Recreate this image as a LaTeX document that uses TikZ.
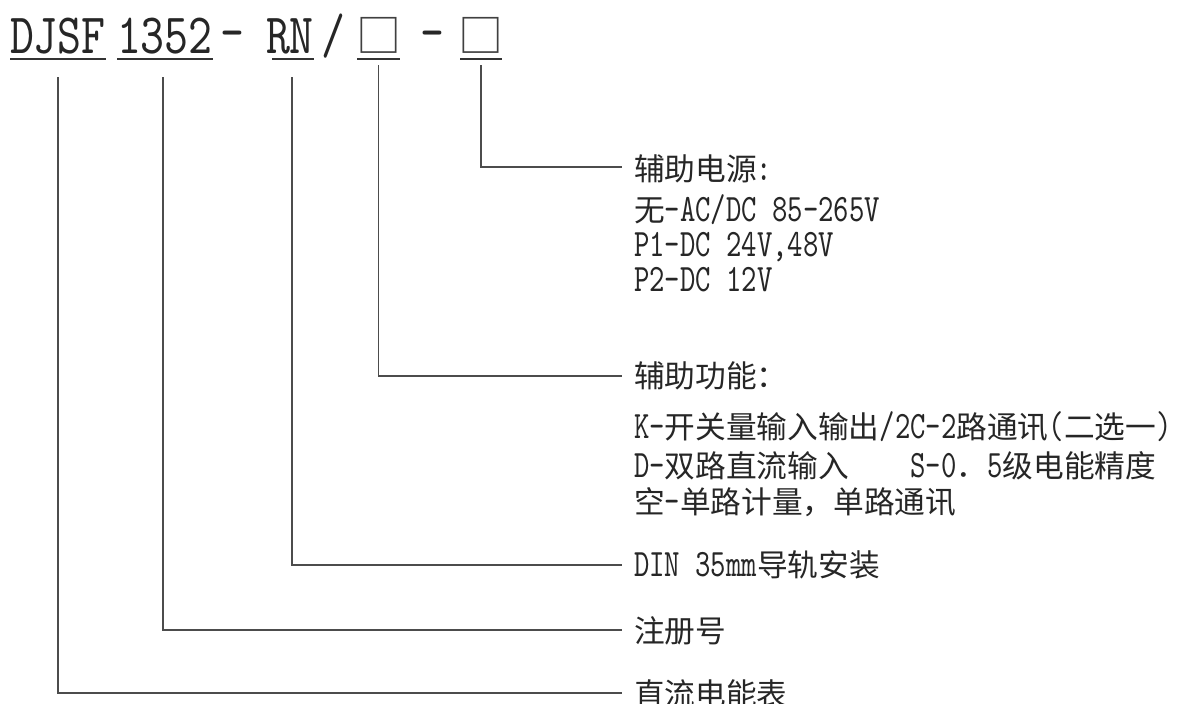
\documentclass[tikz,border=0pt]{standalone}
\usepackage{fontspec}
\newfontfamily\cjkf{Noto Sans CJK SC}
\newfontfamily\latf[FakeStretch=0.755]{lmmono10-regular.otf}
\newfontfamily\titf[FakeStretch=0.80]{lmmono10-regular.otf}
\newcommand\zh[1]{{\cjkf\fontsize{30.7pt}{36pt}\selectfont #1}}
\newcommand\en[1]{{\latf\fontsize{38.8pt}{40pt}\selectfont #1}}
\newcommand\ti[1]{{\titf\fontsize{57pt}{60pt}\selectfont #1}}
\newcommand\bx[1]{{\cjkf\fontsize{45pt}{48pt}\selectfont #1}}
\begin{document}
\begin{tikzpicture}[x=1pt,y=-1pt,
  txt/.style={anchor=base west,inner sep=0pt,outer sep=0pt,text=black!85},
  tbox/.style={anchor=base,inner sep=0pt,outer sep=0pt,text=black!75},
  conn/.style={draw=black!70,line width=1.3pt},
  ul/.style={draw=black!80,line width=1.5pt}]
\fill[white] (0,0) rectangle (1178,704);
\useasboundingbox (0,0) rectangle (1178,704);
% title
\node[txt] (dj) at (10,53) {\ti{DJSF}};
\node[txt] (num) at (117,53) {\ti{1352}};
\node[txt] (da) at (220,50) {\ti{–}};
\node[txt] (rn) at (266,53) {\ti{RN}};
\node[txt] (sl) at (321,53) {\ti{/}};
\node[tbox] (b1) at (378.5,52) {\bx{□}};
\node[txt] (db) at (420,50) {\ti{–}};
\node[tbox] (b2) at (481,52) {\bx{□}};
% underlines
\draw[ul] ([yshift=-6pt]dj.base west) -- ([yshift=-6pt]dj.base east);
\draw[ul] ([yshift=-6pt]num.base west) -- ([yshift=-6pt]num.base east);
\draw[ul] ([yshift=-6pt,xshift=6pt]rn.base west) -- ([yshift=-6pt]rn.base east);
\draw[ul] ([yshift=-7pt,xshift=-21.5pt]b1.base) -- ([yshift=-7pt,xshift=21.5pt]b1.base);
\draw[ul] ([yshift=-7pt,xshift=-21pt]b2.base) -- ([yshift=-7pt,xshift=21pt]b2.base);
% labels block 1
\node[txt] (p0) at (634,180) {\zh{辅助电源}\en{:}};
\node[txt] (p1) at (634,221) {\zh{无}\en{-AC/DC 85-265V}};
\node[txt] (p2) at (634,256) {\en{P1-DC 24V,48V}};
\node[txt] (p3) at (634,291) {\en{P2-DC 12V}};
% labels block 2
\node[txt] (f0) at (634,387) {\zh{辅助功能：}};
\node[txt] (f1) at (634,438) {\en{K-}\zh{开关量输入输出}\en{/2C-2}\zh{路通讯}\en{(}\zh{二选一}\en{)}};
\node[txt] (f2) at (634,477) {\en{D-}\zh{双路直流输入}\en{\ \ \ \ S-0}\zh{．}\en{5}\zh{级电能精度}};
\node[txt] (f3) at (634,513) {\zh{空}\en{-}\zh{单路计量，单路通讯}};
% other labels
\node[txt] (din) at (634,576) {\en{DIN 35mm}\zh{导轨安装}};
\node[txt] (reg) at (634,642) {\zh{注册号}};
\node[txt] (met) at (634,705) {\zh{直流电能表}};
% connector ends
\coordinate (e1) at (622,167);
\coordinate (e2) at (622,376);
\coordinate (e3) at (622,565);
\coordinate (e4) at (622,630);
\coordinate (e5) at (622,693);
\draw[conn] ([yshift=-13pt]b2.base) |- (e1);
\draw[conn] ([yshift=-13pt]b1.base) |- (e2);
\draw[conn] ([yshift=-24pt,xshift=2pt]rn.base) |- (e3);
\draw[conn] ([yshift=-24pt,xshift=-2pt]num.base) |- (e4);
\draw[conn] ([yshift=-24pt]dj.base) |- (e5);
\end{tikzpicture}
\end{document}
